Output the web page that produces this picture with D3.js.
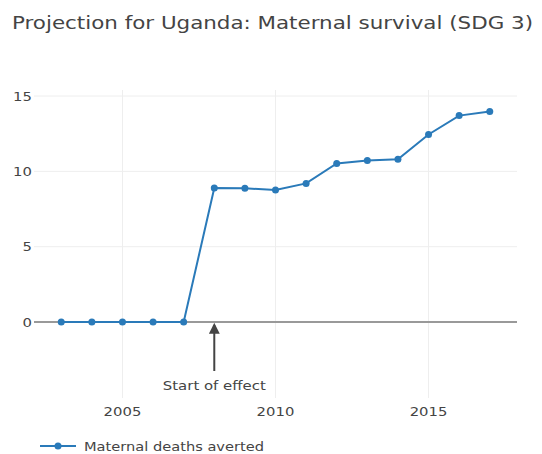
<!DOCTYPE html>
<html><head><meta charset="utf-8">
<script src="https://cdn.jsdelivr.net/npm/d3@7"></script>
<style>body{margin:0;background:#fff}svg{display:block}text{font-family:"DejaVu Sans",Verdana,sans-serif}</style>
</head><body>
<svg id="c" width="542" height="454"></svg>
<script>
const years = [2003,2004,2005,2006,2007,2008,2009,2010,2011,2012,2013,2014,2015,2016,2017];
const deathsAverted = [0,0,0,0,0,8.9,8.88,8.76,9.2,10.52,10.72,10.8,12.45,13.7,13.98];
const xTicks = [2005,2010,2015];
const yTicks = [0,5,10,15];
const seriesName = "Maternal deaths averted";
const title = "Projection for Uganda: Maternal survival (SDG 3)";
const annotationText = "Start of effect";
const annotationYear = 2008;

const svg = d3.select("#c");
const L=34, R=517, T=90, B=398;
const x = d3.scaleLinear().domain([2002.11,2017.89]).range([L,R]);
const y = d3.scaleLinear().domain([-5.04,15.4]).range([B,T]);
const col = "#2a7ab9";
const widen = 1.14;
function stretch(sel, f){ sel.each(function(){ const w=this.getComputedTextLength(); d3.select(this).attr("textLength",w*f).attr("lengthAdjust","spacingAndGlyphs"); }); }

svg.append("text").attr("x",12).attr("y",28.5).attr("font-size",18).attr("fill","#444")
  .attr("textLength",521).attr("lengthAdjust","spacingAndGlyphs").text(title);

// grid
svg.append("g").selectAll("line").data(xTicks).join("line")
  .attr("x1",d=>x(d)).attr("x2",d=>x(d)).attr("y1",T).attr("y2",B)
  .attr("stroke","#eee").attr("stroke-width",1);
svg.append("g").selectAll("line").data(yTicks.filter(d=>d!==0)).join("line")
  .attr("x1",L).attr("x2",R).attr("y1",d=>y(d)).attr("y2",d=>y(d))
  .attr("stroke","#eee").attr("stroke-width",1);
// zero line
svg.append("line").attr("x1",L).attr("x2",R).attr("y1",y(0)).attr("y2",y(0))
  .attr("stroke","#999").attr("stroke-width",2);

// axes labels
svg.append("g").selectAll("text").data(yTicks).join("text")
  .attr("x",L-2).attr("y",d=>y(d)).attr("dy","0.35em").attr("text-anchor","end")
  .attr("font-size",13).attr("fill","#444").text(d=>d).call(stretch,widen);
svg.append("g").selectAll("text").data(xTicks).join("text")
  .attr("x",d=>x(d)).attr("y",B+13).attr("dy","0.35em").attr("text-anchor","middle")
  .attr("font-size",13).attr("fill","#444").text(d=>d).call(stretch,widen);

// line
const data = years.map((yr,i)=>({yr,v:deathsAverted[i]}));
svg.append("path").datum(data)
  .attr("d",d3.line().x(d=>x(d.yr)).y(d=>y(d.v)))
  .attr("fill","none").attr("stroke",col).attr("stroke-width",2);
svg.append("g").selectAll("circle").data(data).join("circle")
  .attr("cx",d=>x(d.yr)).attr("cy",d=>y(d.v)).attr("r",3.5).attr("fill",col);

// annotation
const ax = x(annotationYear);
svg.append("defs").append("marker").attr("id","ah").attr("viewBox","0 0 10 10")
  .attr("refX",8).attr("refY",5).attr("markerWidth",5.5).attr("markerHeight",5.5)
  .attr("orient","auto").append("path").attr("d","M0,0L10,5L0,10z").attr("fill","#444");
svg.append("line").attr("x1",ax).attr("x2",ax).attr("y1",371).attr("y2",y(0)+3)
  .attr("stroke","#444").attr("stroke-width",2).attr("marker-end","url(#ah)");
svg.append("text").attr("x",ax).attr("y",385).attr("dy","0.35em").attr("text-anchor","middle")
  .attr("font-size",13).attr("fill","#444").attr("textLength",103).attr("lengthAdjust","spacingAndGlyphs").text(annotationText);

// legend
const ly = 446;
svg.append("line").attr("x1",40).attr("x2",76).attr("y1",ly).attr("y2",ly).attr("stroke",col).attr("stroke-width",2);
svg.append("circle").attr("cx",58).attr("cy",ly).attr("r",3.5).attr("fill",col);
svg.append("text").attr("x",84).attr("y",ly).attr("dy","0.35em").attr("font-size",13).attr("fill","#444")
  .attr("textLength",180).attr("lengthAdjust","spacingAndGlyphs").text(seriesName);
</script>
</body></html>
